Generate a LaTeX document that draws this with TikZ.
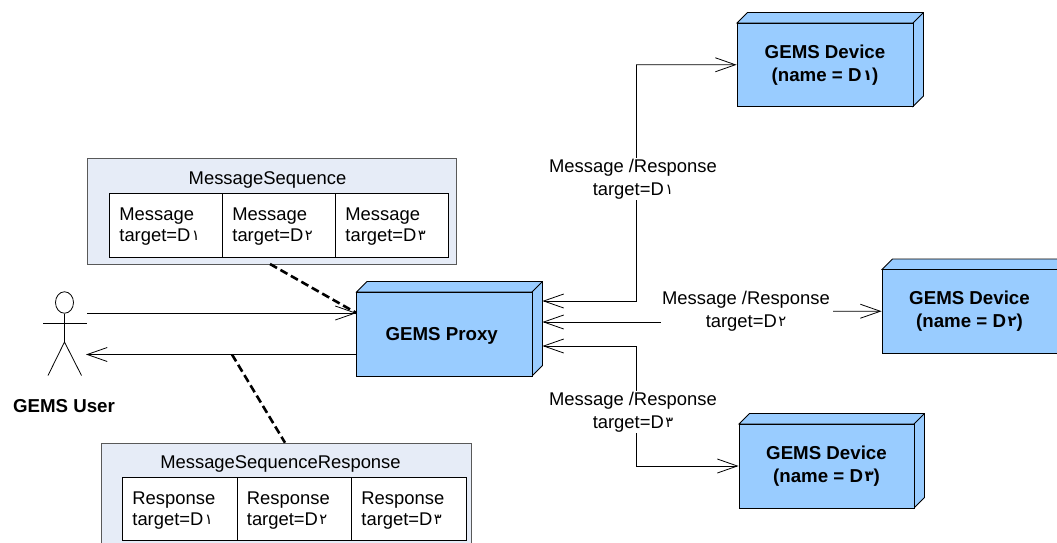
\documentclass[tikz,border=0pt]{standalone}
\usepackage{fontspec}
\setmainfont{Liberation Sans}
\newfontfamily\arabicfont[Script=Arabic,Scale=0.8]{DejaVu Sans}
\TeXXeTstate=1
\usetikzlibrary{arrows.meta,shapes.geometric}
\newcommand{\ardig}[1]{\kern1.5pt\raisebox{1pt}{\arabicfont\beginR #1\endR}}
\newcommand{\gemscube}[6]{%
  \fill[cubeblue,draw=black,line width=0.9pt,line join=miter]
    (#2,#3) -- ({#2+10.5},{#3-10.5}) -- ({#4+10.5},{#3-10.5}) -- ({#4+10.5},{#5-10.5}) -- (#4,#5) -- (#4,#3) -- cycle;
  \draw[line width=0.9pt] (#4,#3) -- ({#4+10.5},{#3-10.5});
  \node[cubefront,minimum width={#4-#2},minimum height={#5-#3}] (#1) at ({(#2+#4)/2},{(#3+#5)/2}) {#6};
}
\tikzset{
  cubeblue/.style={fill=cubefill},
  cubefront/.style={draw=black,fill=cubefill,line width=0.9pt,inner sep=0pt,align=center,
    font=\fontsize{18.7}{23}\selectfont\bfseries,execute at begin node={\rule{0pt}{16pt}}},
  seqbox/.style={draw=black!65,fill=seqfill,line width=1pt,inner sep=0pt},
  cell/.style={draw=black,fill=white,line width=0.8pt,inner xsep=10pt,inner ysep=0pt,align=left,
    anchor=north west,font=\fontsize{18.4}{21}\selectfont,execute at begin node={\rule{0pt}{15.5pt}}},
  plain/.style={inner sep=0pt,align=center,font=\fontsize{18.4}{23}\selectfont},
  msg/.style={plain,fill=white,inner xsep=1pt,inner ysep=1pt},
  link/.style={draw=black,line width=0.8pt,-{Straight Barb[length=20pt,width=14pt,line width=0.8pt]}},
  note/.style={draw=black,line width=2.6pt,dash pattern=on 8pt off 4pt},
  stick/.style={draw=black,line width=0.8pt}
}
\definecolor{cubefill}{HTML}{99CCFF}
\definecolor{seqfill}{HTML}{E6ECF7}
\begin{document}
\begin{tikzpicture}[x=1pt,y=-1pt]
\useasboundingbox (0,0) rectangle (1057,542);
\clip (0,0) rectangle (1057,542);
\fill[white] (0,0) rectangle (1057,542);

% deployment boxes
\gemscube{proxy}{356.5}{292}{532}{376}{GEMS Proxy\hspace*{5pt}}
\gemscube{devone}{737}{23}{913}{106.5}{GEMS Device\\(name = D\ardig{١})}
\gemscube{devtwo}{882}{269.5}{1057}{353}{GEMS Device\\(name = D\ardig{٢})}
\gemscube{devthree}{739}{424}{914}{508}{GEMS Device\\(name = D\ardig{٣})}

% actor
\node[stick,ellipse,minimum width=18pt,minimum height=21.5pt,inner sep=0pt] (head) at (64.5,302.5) {};
\coordinate (hip) at (64.5,342);
\coordinate (armL) at (43,323.5);
\coordinate (armR) at (87,323.5);
\coordinate (legL) at (48,375.5);
\coordinate (legR) at (81.5,375.5);
\draw[stick] (head.south) -- (hip);
\draw[stick] (armL) -- (armR);
\draw[stick] (legL) -- (hip) -- (legR);
\node[plain,font=\fontsize{18.7}{21}\selectfont\bfseries] (userlabel) at (64,406.5) {GEMS User};

% message sequence
\node[seqbox,minimum width=369.5pt,minimum height=105.5pt] (seqout) at (271.75,211.5) {};
\node[plain] (seqtitle) at (267.5,179.5) {MessageSequence};
\node[cell,text width=93pt,minimum height=63.4pt] (m1) at (109,193.3) {Message\\target=D\ardig{١}};
\node[cell,text width=93pt,minimum height=63.4pt] (m2) at (222,193.3) {Message\\target=D\ardig{٢}};
\node[cell,text width=93pt,minimum height=63.4pt] (m3) at (335,193.3) {Message\\target=D\ardig{٣}};

% response sequence
\node[seqbox,minimum width=370pt,minimum height=130pt,anchor=north west] (resout) at (101,442.7) {};
\node[plain] (restitle) at (280.5,463.5) {MessageSequenceResponse};
\node[cell,text width=94.5pt,minimum height=63pt] (r1) at (122,477.3) {Response\\target=D\ardig{١}};
\node[cell,text width=94.5pt,minimum height=63pt] (r2) at (236.5,477.3) {Response\\target=D\ardig{٢}};
\node[cell,text width=94.5pt,minimum height=63pt] (r3) at (351,477.3) {Response\\target=D\ardig{٣}};

% end points of the connectors
\coordinate (userOut) at (87,313);
\coordinate (proxyIn) at (356.5,313);
\coordinate (proxyOut) at (356.5,354.5);
\coordinate (userIn) at (86,354.5);
\coordinate (seqFoot) at (270,264);
\coordinate (respTap) at (232,354.5);
\coordinate (respTop) at (285,442.7);
\coordinate (pa) at (542.5,301);
\coordinate (pb) at (542.5,322);
\coordinate (pc) at (542.5,346);
\coordinate (bendA) at (636,301);
\coordinate (bendC) at (636,346);
\coordinate (bendAup) at (636,64.8);
\coordinate (bendCdn) at (636,466);
\coordinate (midRight) at (833,311.2);

% connectors
\draw[link] (userOut) -- (proxyIn);
\draw[link] (proxyOut) -- (userIn);
\draw[link] (bendAup) -- (devone.west);
\draw[link] (bendAup) -- (bendA) -- (pa);
\draw[link] (bendCdn) -- (devthree.west);
\draw[link] (bendCdn) -- (bendC) -- (pc);
\draw[link] (midRight) -- (devtwo.west);

% connector labels
\node[msg] (labone) at (633,179) {Message /Response\\target=D\ardig{١}};
\node[msg] (labtwo) at (746,311) {Message /Response\\target=D\ardig{٢}};
\node[msg] (labthree) at (633,412) {Message /Response\\target=D\ardig{٣}};
\coordinate (midLeft) at (labtwo.west |- pb);
\draw[link] (midLeft) -- (pb);

% note links
\draw[note] (seqFoot) -- (proxyIn);
\draw[note] (respTap) -- (respTop);
\end{tikzpicture}
\end{document}
